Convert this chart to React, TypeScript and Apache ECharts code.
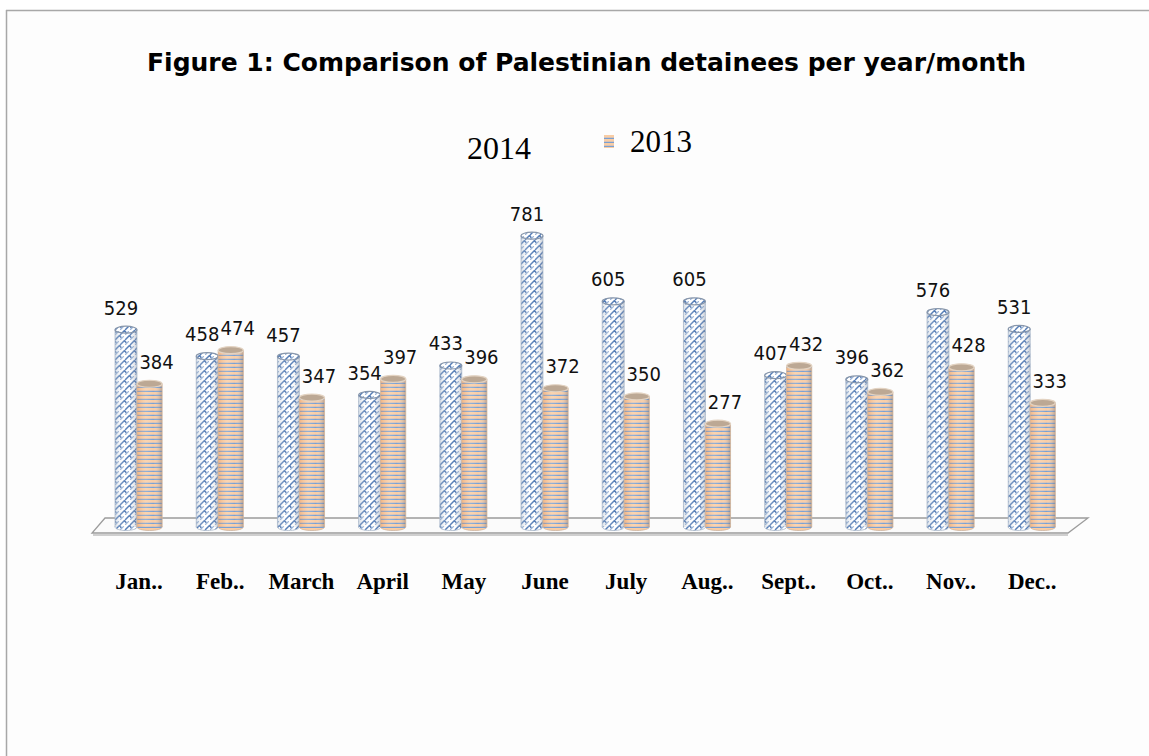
import React, { useEffect, useRef } from 'react';
import * as echarts from 'echarts';

const titleText = 'Figure 1: Comparison of Palestinian detainees per year/month';
const months = ['Jan..', 'Feb..', 'March', 'April', 'May', 'June', 'July', 'Aug..', 'Sept..', 'Oct..', 'Nov..', 'Dec..'];
const values2014 = [529, 458, 457, 354, 433, 781, 605, 605, 407, 396, 576, 531];
const values2013 = [384, 474, 347, 397, 396, 372, 350, 277, 432, 362, 428, 333];
const seriesNames = ['2014', '2013'];

function makeBraid(): string {
  const c = document.createElement('canvas');
  c.width = 10;
  c.height = 10;
  const g = c.getContext('2d')!;
  g.fillStyle = '#ffffff';
  g.fillRect(0, 0, 10, 10);
  g.lineCap = 'round';
  g.strokeStyle = '#557db6';
  g.lineWidth = 1.5;
  g.beginPath();
  g.moveTo(0.5, 4.5);
  g.lineTo(4.5, 0.5);
  g.moveTo(5.5, 9.5);
  g.lineTo(9.5, 5.5);
  g.moveTo(4.5, 0.5);
  g.lineTo(6, 2.5);
  g.moveTo(9.5, 5.5);
  g.lineTo(10, 6.2);
  g.moveTo(0, 5.8);
  g.lineTo(1, 7.5);
  g.stroke();
  g.strokeStyle = '#9db5d7';
  g.lineWidth = 1.1;
  g.beginPath();
  g.moveTo(5.5, 4.5);
  g.lineTo(8.5, 1.5);
  g.moveTo(0.5, 9.5);
  g.lineTo(3.5, 6.5);
  g.stroke();
  return c.toDataURL();
}

function makeStripes(): string {
  const c = document.createElement('canvas');
  c.width = 4;
  c.height = 4;
  const g = c.getContext('2d')!;
  g.fillStyle = '#f9cda5';
  g.fillRect(0, 0, 4, 4);
  g.fillStyle = '#d9c2b5';
  g.fillRect(0, 2, 4, 1);
  g.fillStyle = '#78a0d3';
  g.fillRect(0, 3, 4, 1);
  return c.toDataURL();
}

export default function App() {
  const ref = useRef<HTMLDivElement>(null);
  useEffect(() => {
    const chart = echarts.init(ref.current!, null, { renderer: 'svg' });
    const braid = { image: makeBraid(), repeat: 'repeat', imageWidth: 10, imageHeight: 10 } as any;
    const stripes = { image: makeStripes(), repeat: 'repeat', imageWidth: 4, imageHeight: 4 } as any;

    const shade2014 = new echarts.graphic.LinearGradient(0, 0, 1, 0, [
      { offset: 0, color: 'rgba(140,160,185,0.35)' },
      { offset: 0.35, color: 'rgba(255,255,255,0.12)' },
      { offset: 0.6, color: 'rgba(255,255,255,0)' },
      { offset: 1, color: 'rgba(110,125,150,0.4)' },
    ]);
    const shade2013 = new echarts.graphic.LinearGradient(0, 0, 1, 0, [
      { offset: 0, color: 'rgba(225,135,70,0.35)' },
      { offset: 0.35, color: 'rgba(255,240,220,0.2)' },
      { offset: 0.65, color: 'rgba(255,255,255,0)' },
      { offset: 1, color: 'rgba(105,105,115,0.45)' },
    ]);

    const makeRender = (kind: number) => (params: any, api: any) => {
      const i = api.value(0);
      const v = api.value(1);
      const top = api.coord([i, v]);
      const base = api.coord([i, 0]);
      const band = api.size([1, 0])[0];
      const w = kind === 0 ? band * 0.27 : band * 0.31;
      const x0 = kind === 0 ? top[0] - band * 0.025 - w : top[0] - band * 0.025;
      const cx = x0 + w / 2;
      const ry = 3.5;
      const fill = kind === 0 ? braid : stripes;
      const shade = kind === 0 ? shade2014 : shade2013;
      const edge = kind === 0 ? '#a9b7c9' : '#d2b59c';
      const capFill = kind === 0 ? braid : '#bca894';
      const capStroke = kind === 0 ? '#8796ab' : '#e3d3c2';
      const labelDx = kind === 0 ? -5 : 7;
      return {
        type: 'group',
        children: [
          { type: 'ellipse', shape: { cx, cy: base[1], rx: w / 2, ry }, style: { fill, stroke: edge, lineWidth: 0.8 } },
          { type: 'rect', shape: { x: x0, y: top[1], width: w, height: base[1] - top[1] }, style: { fill } },
          { type: 'rect', shape: { x: x0, y: top[1], width: w, height: base[1] - top[1] }, style: { fill: shade } },
          { type: 'line', shape: { x1: x0, y1: top[1], x2: x0, y2: base[1] }, style: { stroke: edge, lineWidth: 0.8 } },
          { type: 'line', shape: { x1: x0 + w, y1: top[1], x2: x0 + w, y2: base[1] }, style: { stroke: edge, lineWidth: 0.8 } },
          { type: 'ellipse', shape: { cx, cy: top[1], rx: w / 2, ry }, style: { fill: capFill, stroke: capStroke, lineWidth: 1.2 } },
          {
            type: 'text',
            x: cx + labelDx,
            y: top[1] - 22,
            style: {
              text: String(v),
              fill: '#111',
              fontSize: 20,
              fontFamily: '"DejaVu Sans Condensed", "Liberation Sans", sans-serif',
              align: 'center',
              verticalAlign: 'middle',
            },
          },
        ],
      };
    };

    const option: any = {
      animation: false,
      backgroundColor: '#ffffff',
      title: {
        text: titleText,
        left: 142,
        top: 45,
        textStyle: { fontFamily: '"DejaVu Sans", Verdana, sans-serif', fontWeight: 'bold', fontSize: 25, color: '#000' },
      },
      legend: [
        {
          data: [{ name: seriesNames[0], icon: 'rect', itemStyle: { color: 'rgba(0,0,0,0)' } }],
          left: 447,
          top: 127,
          itemWidth: 10,
          itemHeight: 13,
          selectedMode: false,
          textStyle: { fontFamily: '"Liberation Serif", "Times New Roman", serif', fontSize: 32, color: '#000' },
        },
        {
          data: [{ name: seriesNames[1], icon: 'rect', itemStyle: { color: stripes } }],
          left: 599,
          top: 121,
          itemWidth: 10,
          itemHeight: 13,
          selectedMode: false,
          textStyle: { fontFamily: '"Liberation Serif", "Times New Roman", serif', fontSize: 31, color: '#000', padding: [0, 0, 0, 11] },
        },
      ],
      grid: { left: 98.4, right: 76.2, top: 154, bottom: 229 },
      xAxis: {
        type: 'category',
        data: months,
        axisLine: { show: false },
        axisTick: { show: false },
        splitLine: { show: false },
        axisLabel: {
          margin: 43,
          interval: 0,
          color: '#000',
          fontFamily: '"Liberation Serif", "Times New Roman", serif',
          fontWeight: 'bold',
          fontSize: 23,
        },
      },
      yAxis: { type: 'value', min: 0, max: 1000, show: false, splitLine: { show: false } },
      graphic: [
        { type: 'rect', z: -10, shape: { x: 7, y: 11, width: 1142, height: 745 }, style: { fill: '#fdfdfd' } },
        { type: 'line', z: -9, shape: { x1: 6, y1: 10.5, x2: 1149, y2: 10.5 }, style: { stroke: '#a8a8a8', lineWidth: 1.5 } },
        { type: 'line', z: -9, shape: { x1: 6.5, y1: 10, x2: 6.5, y2: 756 }, style: { stroke: '#a8a8a8', lineWidth: 1.5 } },
        { type: 'line', z: -5, shape: { x1: 93, y1: 535, x2: 1068, y2: 535 }, style: { stroke: '#cfcfcf', lineWidth: 2 } },
        {
          type: 'polygon',
          z: -4,
          shape: { points: [[105, 518], [1088, 518], [1068, 533], [92, 533]] },
          style: { fill: '#fbfbfb', stroke: '#9c9c9c', lineWidth: 1.3 },
        },
      ],
      series: [
        {
          name: seriesNames[0],
          type: 'custom',
          renderItem: makeRender(0),
          encode: { x: 0, y: 1 },
          data: values2014.map((v, i) => [i, v]),
          z: 3,
        },
        {
          name: seriesNames[1],
          type: 'custom',
          renderItem: makeRender(1),
          encode: { x: 0, y: 1 },
          data: values2013.map((v, i) => [i, v]),
          z: 3,
        },
      ],
    };
    chart.setOption(option);
    return () => chart.dispose();
  }, []);
  return <div ref={ref} style={{ position: 'fixed', left: 0, top: 0, width: 1149, height: 756 }} />;
}
